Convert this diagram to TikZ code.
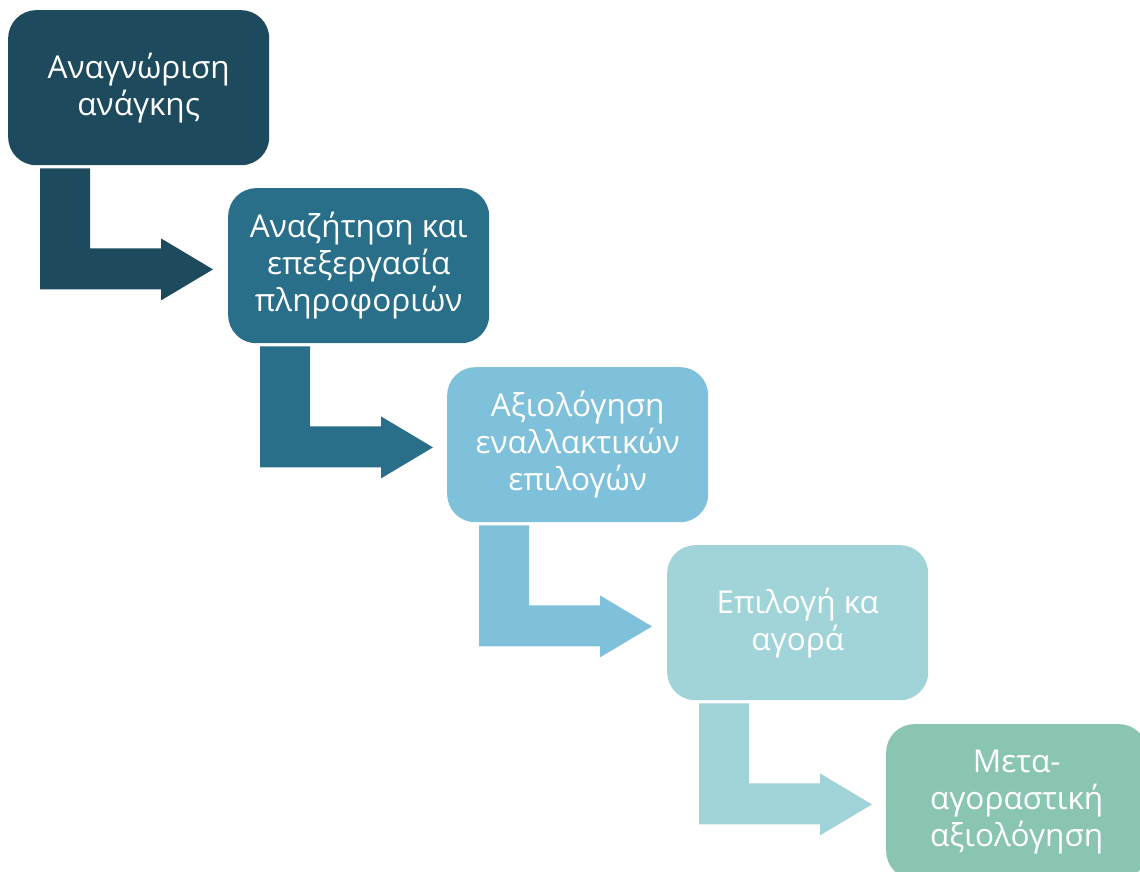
\documentclass[tikz,border=0pt]{standalone}
\usepackage{fontspec}
\setmainfont{Open Sans}
\usetikzlibrary{calc}
\definecolor{cA}{RGB}{29,74,92}
\definecolor{cB}{RGB}{41,111,138}
\definecolor{cC}{RGB}{127,193,219}
\definecolor{cD}{RGB}{160,212,217}
\definecolor{cE}{RGB}{138,197,178}
\tikzset{
  stepbox/.style={rounded corners=28pt, minimum width=261pt, minimum height=155pt,
    inner sep=0pt, align=center, text=white, font=\fontsize{31.5}{37}\selectfont, anchor=north west},
}
\newcommand{\elbowarrow}[2]{%
  \fill[#2] ($(#1.south west)+(32,3)$) -- ($(#1.south west)+(82,3)$) -- ($(#1.south west)+(82,83)$)
    -- ($(#1.south west)+(153,83)$) -- ($(#1.south west)+(153,73)$) -- ($(#1.south west)+(205,104)$)
    -- ($(#1.south west)+(153,135)$) -- ($(#1.south west)+(153,124)$) -- ($(#1.south west)+(32,124)$) -- cycle;}
\begin{document}
\begin{tikzpicture}[x=1pt,y=-1pt]
\useasboundingbox (0,0) rectangle (1140,872);
\clip (0,0) rectangle (1140,872);
\node[stepbox, fill=cA] (b1) at (8,10) {Αναγνώριση\\ανάγκης};
\node[stepbox, fill=cB] (b2) at (228,188) {Αναζήτηση και\\επεξεργασία\\πληροφοριών};
\node[stepbox, fill=cC] (b3) at (447,367) {Αξιολόγηση\\εναλλακτικών\\επιλογών};
\node[stepbox, fill=cD] (b4) at (667,545) {Επιλογή κα\\αγορά};
\node[stepbox, fill=cE] (b5) at (886,724) {Μετα-\\αγοραστική\\αξιολόγηση};
\elbowarrow{b1}{cA}
\elbowarrow{b2}{cB}
\elbowarrow{b3}{cC}
\elbowarrow{b4}{cD}
\end{tikzpicture}
\end{document}
